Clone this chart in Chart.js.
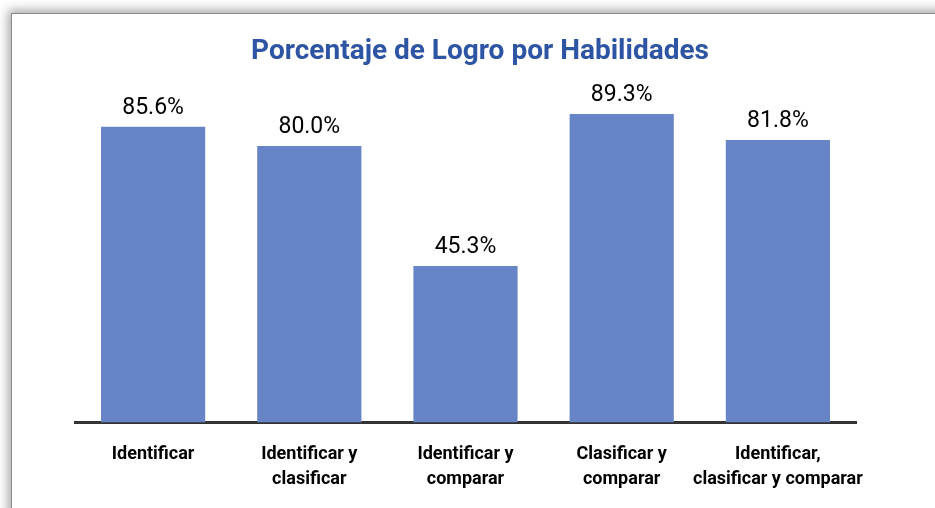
<!DOCTYPE html>
<html>
<head>
<meta charset="utf-8">
<script src="https://cdn.jsdelivr.net/npm/chart.js@4.4.1/dist/chart.umd.min.js"></script>
<style>
  html, body { margin: 0; padding: 0; background: #fff; overflow: hidden; }
  .card {
    position: absolute; left: 11px; top: 13px;
    width: 960px; height: 520px;
    background: #fff;
    border-left: 1px solid #8a8a8a; border-top: 1px solid #8a8a8a;
    box-shadow: -3px -3px 10px rgba(0,0,0,0.35);
  }
  #chart { position: absolute; left: -1px; top: -1px; }
</style>
</head>
<body>
<div class="card"><canvas id="chart" width="938" height="498"></canvas></div>
<script>
const skills = [
  ["Identificar"],
  ["Identificar y", "clasificar"],
  ["Identificar y", "comparar"],
  ["Clasificar y", "comparar"],
  ["Identificar,", "clasificar y comparar"]
];
const achievement = [85.6, 80.0, 45.3, 89.3, 81.8];
const chartTitle = "Porcentaje de Logro por Habilidades";

const fontFamily = "'Roboto', sans-serif";

// title centred on the card + the % value above each bar
const chartText = {
  id: 'chartText',
  afterDatasetsDraw(chart) {
    const ctx = chart.ctx;
    const meta = chart.getDatasetMeta(0);
    ctx.save();
    ctx.textAlign = "center";

    ctx.font = "bold 28px " + fontFamily;
    ctx.fillStyle = "#2E55A4";
    ctx.textBaseline = "middle";
    ctx.fillText(chartTitle, chart.width / 2, 39);

    ctx.font = "23px " + fontFamily;
    ctx.fillStyle = "#000";
    ctx.textBaseline = "bottom";
    meta.data.forEach((bar, i) => {
      ctx.fillText(achievement[i].toFixed(1) + "%", bar.x, bar.y - 7);
    });
    ctx.restore();
  }
};

new Chart(document.getElementById('chart'), {
  type: 'bar',
  data: {
    labels: skills,
    datasets: [{
      data: achievement,
      backgroundColor: "#6785C6",
      barPercentage: 1,
      categoryPercentage: 0.667
    }]
  },
  options: {
    responsive: false,
    animation: false,
    layout: { padding: { left: 64, right: 93, top: 64, bottom: 0 } },
    plugins: {
      legend: { display: false },
      tooltip: { enabled: false },
      title: { display: false }
    },
    scales: {
      y: {
        display: false,
        min: 0,
        max: 100
      },
      x: {
        grid: { display: false, drawTicks: false },
        border: { display: true, color: "#333", width: 3 },
        ticks: {
          color: "#000",
          font: { family: fontFamily, size: 18, weight: "bold", lineHeight: 1.4 },
          padding: 19,
          maxRotation: 0,
          autoSkip: false
        }
      }
    }
  },
  plugins: [chartText]
});
</script>
</body>
</html>
